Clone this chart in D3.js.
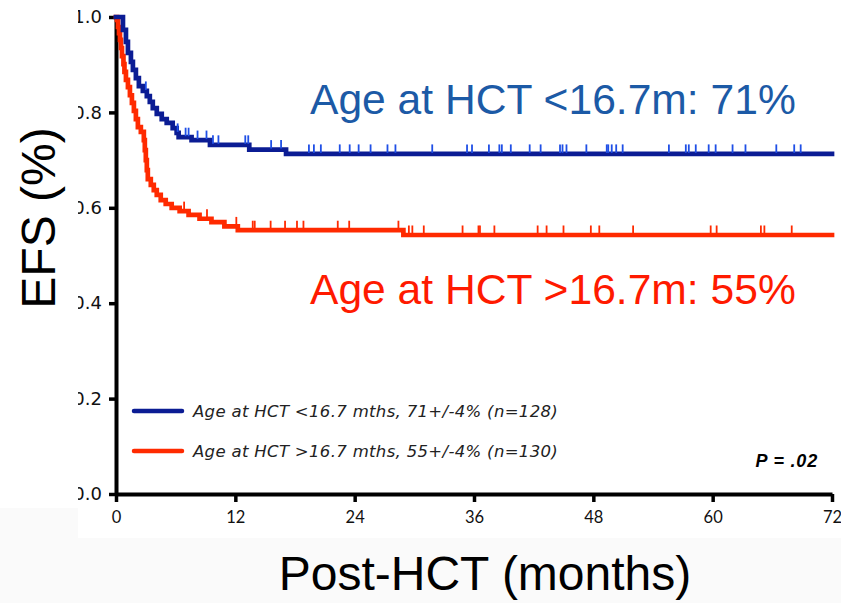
<!DOCTYPE html>
<html>
<head>
<meta charset="utf-8">
<script src="https://cdn.jsdelivr.net/npm/d3@7"></script>
<style>
  html, body { margin: 0; padding: 0; background: #fafafa; }
  svg { display: block; }
</style>
</head>
<body>
<svg id="chart" width="841" height="603"></svg>
<script>
// Kaplan-Meier event-free survival by age at HCT

const xTicks = [0, 12, 24, 36, 48, 60, 72];
const yTicks = [0, 0.2, 0.4, 0.6, 0.8, 1.0];

// Younger group (<16.7 months): event times (months) and survival after each event
const youngTimes = [0.7, 1.0, 1.2, 1.5, 1.7, 2.0, 2.3, 2.7, 3.1, 3.4, 3.7, 4.1, 4.6, 5.1, 5.7, 6.1, 6.3, 7.6, 9.45, 13.4, 17.1];
const youngSurv  = [0.973, 0.948, 0.925, 0.906, 0.889, 0.872, 0.855, 0.845, 0.834, 0.822, 0.809, 0.797, 0.786, 0.778, 0.767, 0.757, 0.748, 0.742, 0.732, 0.722, 0.713];
const youngCensored = [3.0, 6.2, 7.0, 7.3, 8.2, 9.1, 9.75, 10.3, 13.0, 13.3, 15.6, 16.6, 19.4, 19.9, 20.6, 22.5, 23.5, 24.4, 25.6, 27.3, 28.1, 31.8, 35.3, 35.8, 37.5, 38.55, 38.8, 39.7, 41.6, 42.7, 44.65, 44.9, 45.3, 47.3, 49.35, 49.5, 49.85, 50.3, 50.95, 55.6, 57.3, 57.6, 58.3, 59.6, 60.3, 62.0, 63.3, 66.4, 68.2, 68.85];

// Older group (>16.7 months)
const oldTimes = [0.1, 0.2, 0.3, 0.4, 0.5, 0.6, 0.75, 0.85, 1.0, 1.2, 1.4, 1.6, 1.8, 2.0, 2.2, 2.5, 2.8, 2.9, 3.0, 3.1, 3.2, 3.5, 3.8, 4.1, 4.5, 5.0, 5.6, 6.4, 7.3, 8.4, 9.6, 10.9, 12.25, 28.9];
const oldSurv  = [0.994, 0.979, 0.966, 0.952, 0.935, 0.918, 0.901, 0.885, 0.868, 0.853, 0.836, 0.820, 0.803, 0.786, 0.769, 0.759, 0.742, 0.721, 0.700, 0.679, 0.660, 0.648, 0.637, 0.627, 0.616, 0.608, 0.600, 0.593, 0.585, 0.577, 0.570, 0.561, 0.553, 0.543];
const oldCensored = [6.85, 9.15, 12.1, 13.75, 13.95, 15.55, 17.0, 18.2, 18.85, 22.3, 23.45, 28.4, 29.45, 29.8, 30.95, 34.85, 36.45, 36.6, 38.05, 42.4, 43.3, 45.0, 47.75, 48.6, 52.0, 59.8, 60.4, 64.85, 65.2, 67.95];

const legendLabels = [
  "Age at HCT <16.7 mths, 71+/-4% (n=128)",
  "Age at HCT >16.7 mths, 55+/-4% (n=130)"
];
const bigLabels = ["Age at HCT <16.7m: 71%", "Age at HCT >16.7m: 55%"];

const colors = { young: "#0b1c94", youngTick: "#1f4fe6", old: "#ff2a00", oldTick: "#ff2a00",
                 youngText: "#1c5aa6", oldText: "#ff1a00" };

const svg = d3.select("#chart");

// chart panel background
svg.append("rect").attr("x", 78).attr("y", 0).attr("width", 763).attr("height", 538).attr("fill", "#ffffff");

const x = d3.scaleLinear().domain([0, 72]).range([116, 832]);
const y = d3.scaleLinear().domain([0, 1]).range([494, 17]);

// axes
const xAxis = svg.append("g").attr("transform", `translate(0,${y(0)})`)
  .call(d3.axisBottom(x).tickValues(xTicks).tickSize(8).tickSizeOuter(0).tickPadding(6));
const yAxis = svg.append("g").attr("transform", `translate(${x(0)},0)`)
  .call(d3.axisLeft(y).tickValues(yTicks).tickSize(7).tickSizeOuter(0).tickPadding(7).tickFormat(d3.format(".1f")));

[xAxis, yAxis].forEach(g => {
  g.select(".domain").attr("stroke", "#000").attr("stroke-width", 4);
  g.selectAll(".tick line").attr("stroke", "#000").attr("stroke-width", 3.5);
  g.selectAll(".tick text").attr("fill", "#111").style("font-family", "Lato, 'Open Sans', sans-serif").style("font-size", "16.5px");
});
xAxis.selectAll(".tick text").attr("dy", "0.9em");
yAxis.selectAll(".tick text").style("font-family", "'DejaVu Sans', sans-serif").style("font-size", "18px");

// step curves
function steps(times, surv) {
  const pts = [[0, 1]];
  times.forEach((t, i) => pts.push([t, surv[i]]));
  pts.push([72, surv[surv.length - 1]]);
  return pts;
}
function survAt(times, surv, t) {
  let s = 1;
  times.forEach((tt, i) => { if (tt <= t) s = surv[i]; });
  return s;
}
const line = d3.line().x(d => x(d[0])).y(d => y(d[1])).curve(d3.curveStepAfter);

const groups = [
  { times: oldTimes, surv: oldSurv, cens: oldCensored, c: colors.old, tc: colors.oldTick },
  { times: youngTimes, surv: youngSurv, cens: youngCensored, c: colors.young, tc: colors.youngTick }
];
groups.forEach(g => {
  svg.append("path").datum(steps(g.times, g.surv)).attr("d", line)
    .attr("fill", "none").attr("stroke", g.c).attr("stroke-width", 4.7).attr("stroke-linejoin", "miter").attr("stroke-linecap", "square");
  svg.append("g").selectAll("line").data(g.cens).join("line")
    .attr("x1", d => x(d)).attr("x2", d => x(d))
    .attr("y1", d => y(survAt(g.times, g.surv, d)) - 9.5)
    .attr("y2", d => y(survAt(g.times, g.surv, d)) - 1)
    .attr("stroke", g.tc).attr("stroke-width", 1.8);
});

// large group labels
const bigFont = "'Liberation Sans', Arial, sans-serif";
svg.append("text").attr("x", 310).attr("y", 114).text(bigLabels[0])
  .attr("fill", colors.youngText).style("font-family", bigFont).style("font-size", "42.6px");
svg.append("text").attr("x", 310).attr("y", 304).text(bigLabels[1])
  .attr("fill", colors.oldText).style("font-family", bigFont).style("font-size", "42.6px");

// legend
const legend = svg.append("g");
[[colors.young, 411], [colors.old, 451]].forEach(([c, ly], i) => {
  legend.append("line").attr("x1", 134).attr("x2", 182).attr("y1", ly).attr("y2", ly)
    .attr("stroke", c).attr("stroke-width", 4.5).attr("stroke-linecap", "round");
  legend.append("text").attr("x", 193).attr("y", ly + 6).text(legendLabels[i])
    .attr("fill", "#222").style("font-family", "'DejaVu Sans', sans-serif").style("font-style", "italic")
    .style("font-size", "16.5px").style("letter-spacing", "0.33px");
});

// p-value
svg.append("text").attr("x", 818).attr("y", 467).attr("text-anchor", "end").text("P = .02")
  .attr("fill", "#000").style("font-family", bigFont)
  .style("font-style", "italic").style("font-weight", "bold").style("font-size", "18px").style("letter-spacing", "0.8px");

// label panel on the left (covers the leading digits of the y tick labels)
svg.append("rect").attr("x", 0).attr("y", 0).attr("width", 78).attr("height", 508).attr("fill", "#ffffff");

// axis titles
svg.append("text").attr("transform", "translate(55,218) rotate(-90)").attr("text-anchor", "middle")
  .text("EFS (%)").attr("fill", "#000").style("font-family", bigFont).style("font-size", "48px");
svg.append("text").attr("x", 485).attr("y", 590).attr("text-anchor", "middle")
  .text("Post-HCT (months)").attr("fill", "#000").style("font-family", bigFont).style("font-size", "48px");
</script>
</body>
</html>
